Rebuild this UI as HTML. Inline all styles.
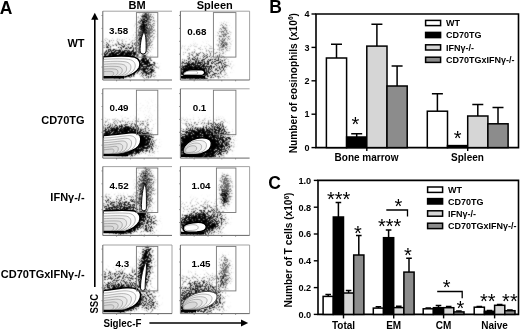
<!DOCTYPE html>
<html><head><meta charset="utf-8"><style>
html,body{margin:0;padding:0;background:#fff;}
svg{display:block;will-change:transform;}
</style></head><body>
<svg width="520" height="329" viewBox="0 0 520 329">
<rect width="520" height="329" fill="#fff"/>
<defs><clipPath id="cp00"><rect x="103.3" y="11.7" width="68.2" height="67.8"/></clipPath><clipPath id="cp01"><rect x="180.9" y="11.7" width="68.2" height="67.8"/></clipPath><clipPath id="cp10"><rect x="103.3" y="89.3" width="68.2" height="68.3"/></clipPath><clipPath id="cp11"><rect x="180.9" y="89.3" width="68.2" height="68.3"/></clipPath><clipPath id="cp20"><rect x="103.3" y="167.1" width="68.2" height="67.80000000000001"/></clipPath><clipPath id="cp21"><rect x="180.9" y="167.1" width="68.2" height="67.80000000000001"/></clipPath><clipPath id="cp30"><rect x="103.3" y="245.5" width="68.2" height="67.60000000000002"/></clipPath><clipPath id="cp31"><rect x="180.9" y="245.5" width="68.2" height="67.60000000000002"/></clipPath><filter id="b1_0" x="-100%" y="-100%" width="300%" height="300%"><feGaussianBlur stdDeviation="1.0"/></filter><filter id="b1_5" x="-100%" y="-100%" width="300%" height="300%"><feGaussianBlur stdDeviation="1.5"/></filter><filter id="b1_8" x="-100%" y="-100%" width="300%" height="300%"><feGaussianBlur stdDeviation="1.8"/></filter><filter id="b2" x="-100%" y="-100%" width="300%" height="300%"><feGaussianBlur stdDeviation="2"/></filter><filter id="b2_5" x="-100%" y="-100%" width="300%" height="300%"><feGaussianBlur stdDeviation="2.5"/></filter><filter id="b3" x="-100%" y="-100%" width="300%" height="300%"><feGaussianBlur stdDeviation="3"/></filter><filter id="spk" x="95" y="5" width="160" height="315" filterUnits="userSpaceOnUse" color-interpolation-filters="sRGB"><feTurbulence type="fractalNoise" baseFrequency="0.93" numOctaves="2" seed="3" result="n"/><feColorMatrix in="n" type="matrix" values="0 0 0 0 0  0 0 0 0 0  0 0 0 0 0  1 0 0 0 0" result="na"/><feComponentTransfer in="na" result="ns"><feFuncA type="linear" slope="2.5" intercept="-0.9"/></feComponentTransfer><feComposite in="SourceAlpha" in2="ns" operator="arithmetic" k1="0" k2="1" k3="-1" k4="0" result="d"/><feComponentTransfer in="d" result="t"><feFuncA type="linear" slope="3" intercept="0"/></feComponentTransfer><feFlood flood-color="#000" result="blk"/><feComposite in="blk" in2="t" operator="in" result="o"/><feConvolveMatrix in="o" order="3" kernelMatrix="0.04 0.1 0.04 0.1 0.44 0.1 0.04 0.1 0.04" divisor="1" preserveAlpha="false"/></filter><filter id="spkg" x="95" y="5" width="160" height="315" filterUnits="userSpaceOnUse" color-interpolation-filters="sRGB"><feTurbulence type="fractalNoise" baseFrequency="0.93" numOctaves="2" seed="7" result="n"/><feColorMatrix in="n" type="matrix" values="0 0 0 0 0  0 0 0 0 0  0 0 0 0 0  1 0 0 0 0" result="na"/><feComponentTransfer in="na" result="ns"><feFuncA type="linear" slope="2.5" intercept="-0.9"/></feComponentTransfer><feComposite in="SourceAlpha" in2="ns" operator="arithmetic" k1="0" k2="1" k3="-1" k4="0" result="d"/><feComponentTransfer in="d" result="t"><feFuncA type="linear" slope="3" intercept="0"/></feComponentTransfer><feFlood flood-color="#5a5a5a" result="blk"/><feComposite in="blk" in2="t" operator="in" result="o"/><feConvolveMatrix in="o" order="3" kernelMatrix="0.04 0.1 0.04 0.1 0.44 0.1 0.04 0.1 0.04" divisor="1" preserveAlpha="false"/></filter></defs>
<text x="-0.2" y="13.6" font-family="Liberation Sans, sans-serif" font-size="17.5" font-weight="bold" text-anchor="start" >A</text>
<text x="137.1" y="9.0" font-family="Liberation Sans, sans-serif" font-size="11" font-weight="bold" text-anchor="middle" >BM</text>
<text x="214.7" y="9.0" font-family="Liberation Sans, sans-serif" font-size="11" font-weight="bold" text-anchor="middle" >Spleen</text>
<text x="84.6" y="47.2" font-family="Liberation Sans, sans-serif" font-size="11" font-weight="bold" text-anchor="end" >WT</text>
<text x="84.6" y="124.0" font-family="Liberation Sans, sans-serif" font-size="11" font-weight="bold" text-anchor="end" >CD70TG</text>
<text x="84.6" y="200.6" font-family="Liberation Sans, sans-serif" font-size="11" font-weight="bold" text-anchor="end" >IFN&#947;-/-</text>
<text x="84.6" y="278.0" font-family="Liberation Sans, sans-serif" font-size="11" font-weight="bold" text-anchor="end" >CD70TGxIFN&#947;-/-</text>
<path d="M94.8 18V287" stroke="#000" stroke-width="1.6"/>
<path d="M91.2 19.8L94.8 12.8L98.4 19.8Z" fill="#000"/>
<text transform="translate(98.0 313.5) rotate(-90)" font-family="Liberation Sans, sans-serif" font-size="10.5" font-weight="bold" textLength="19.5" lengthAdjust="spacingAndGlyphs">SSC</text>
<text x="103.4" y="327.3" font-family="Liberation Sans, sans-serif" font-size="10.5" font-weight="bold" text-anchor="start" textLength="38" lengthAdjust="spacingAndGlyphs">Siglec-F</text>
<path d="M149.4 323H243" stroke="#000" stroke-width="1.6"/>
<path d="M241 319.6L248.2 323L241 326.4Z" fill="#000"/>
<g clip-path="url(#cp00)">
<g filter="url(#spkg)" fill="#000"><ellipse cx="145" cy="33" rx="8" ry="23" transform="rotate(6 145 33)" fill-opacity="0.8" filter="url(#b2_5)"/></g>
<g filter="url(#spk)" fill="#000"><rect x="102.8" y="41" width="36" height="15" fill-opacity="0.33" filter="url(#b2_5)"/><ellipse cx="121" cy="54" rx="19" ry="3.5" transform="rotate(0 121 54)" fill-opacity="0.8" filter="url(#b1_5)"/><ellipse cx="143.5" cy="30" rx="3.5" ry="17" transform="rotate(6 143.5 30)" fill-opacity="0.7" filter="url(#b1_5)"/><ellipse cx="144" cy="62" rx="3" ry="8" transform="rotate(0 144 62)" fill-opacity="0.9" filter="url(#b1_5)"/><ellipse cx="148" cy="68" rx="8" ry="10" transform="rotate(0 148 68)" fill-opacity="0.65" filter="url(#b2_5)"/><ellipse cx="121" cy="66" rx="20" ry="12" transform="rotate(0 121 66)" fill-opacity="1.0" filter="url(#b1_0)"/></g>
<path d="M103.3 56.8 C116 55.8 129 55.6 134.5 57.2 C139.8 58.8 140.8 63.5 139.2 67.5 C137 72 131 75.3 123.5 77 L103.3 77.6 Z" fill="#fff" stroke="#000" stroke-width="1.4"/>
<path d="M103.3 56.8 C116 55.8 129 55.6 134.5 57.2 C139.8 58.8 140.8 63.5 139.2 67.5 C137 72 131 75.3 123.5 77 L103.3 77.6 Z" transform="translate(104 77) scale(0.87) translate(-104 -77)" fill="#fafafa" stroke="#8a8a8a" stroke-width="0.6" vector-effect="non-scaling-stroke"/>
<path d="M103.3 56.8 C116 55.8 129 55.6 134.5 57.2 C139.8 58.8 140.8 63.5 139.2 67.5 C137 72 131 75.3 123.5 77 L103.3 77.6 Z" transform="translate(104 77) scale(0.75) translate(-104 -77)" fill="#f0f0f0" stroke="#8a8a8a" stroke-width="0.6" vector-effect="non-scaling-stroke"/>
<path d="M103.3 56.8 C116 55.8 129 55.6 134.5 57.2 C139.8 58.8 140.8 63.5 139.2 67.5 C137 72 131 75.3 123.5 77 L103.3 77.6 Z" transform="translate(104 77) scale(0.63) translate(-104 -77)" fill="#e8e8e8" stroke="#8a8a8a" stroke-width="0.6" vector-effect="non-scaling-stroke"/>
<path d="M103.3 56.8 C116 55.8 129 55.6 134.5 57.2 C139.8 58.8 140.8 63.5 139.2 67.5 C137 72 131 75.3 123.5 77 L103.3 77.6 Z" transform="translate(104 77) scale(0.51) translate(-104 -77)" fill="#e2e2e2" stroke="#8a8a8a" stroke-width="0.6" vector-effect="non-scaling-stroke"/>
<path d="M103.3 56.8 C116 55.8 129 55.6 134.5 57.2 C139.8 58.8 140.8 63.5 139.2 67.5 C137 72 131 75.3 123.5 77 L103.3 77.6 Z" transform="translate(104 77) scale(0.39) translate(-104 -77)" fill="#dcdcdc" stroke="#8a8a8a" stroke-width="0.6" vector-effect="non-scaling-stroke"/>
<path d="M103.3 56.8 C116 55.8 129 55.6 134.5 57.2 C139.8 58.8 140.8 63.5 139.2 67.5 C137 72 131 75.3 123.5 77 L103.3 77.6 Z" transform="translate(104 77) scale(0.27) translate(-104 -77)" fill="#d6d6d6" stroke="#8a8a8a" stroke-width="0.6" vector-effect="non-scaling-stroke"/>
<path d="M103.3 77.2H124" stroke="#000" stroke-width="2.6"/>
<path d="M144.0 32.5C146.40 34.22 146.10 44.33 146.10 51.00A3.0 3.0 0 0 1 140.10 51.00C140.10 44.33 141.60 34.22 144.0 32.5Z" fill="#fff" stroke="#000" stroke-width="0.9"/>
</g>
<path d="M102.8 11.2H172.0" fill="none" stroke="#999" stroke-width="0.9"/>
<path d="M102.8 11.2V80.0H172.0" fill="none" stroke="#555" stroke-width="0.9"/>
<path d="M102.8 67.1h-1.3M102.8 54.2h-1.3M102.8 41.3h-1.3M102.8 28.4h-1.3M102.8 15.5h-1.3M116.6 80.0v1.3M130.4 80.0v1.3M144.2 80.0v1.3M158.0 80.0v1.3" stroke="#777" stroke-width="0.8"/>
<rect x="136.4" y="12.6" width="21.400000000000006" height="44.5" fill="none" stroke="#777" stroke-width="0.9"/>
<text x="109.1" y="34.0" font-family="Liberation Sans, sans-serif" font-size="9.8" font-weight="bold" text-anchor="start" >3.58</text>
<g clip-path="url(#cp01)">
<g filter="url(#spkg)" fill="#000"><ellipse cx="224" cy="38" rx="5.5" ry="15" transform="rotate(0 224 38)" fill-opacity="0.5" filter="url(#b2)"/></g>
<g filter="url(#spk)" fill="#000"><ellipse cx="224" cy="45" rx="3" ry="7" transform="rotate(0 224 45)" fill-opacity="0.2" filter="url(#b2)"/><ellipse cx="194" cy="71" rx="14" ry="8" transform="rotate(0 194 71)" fill-opacity="1.0" filter="url(#b2_5)"/><ellipse cx="205" cy="66" rx="24" ry="13" transform="rotate(0 205 66)" fill-opacity="0.35" filter="url(#b3)"/><rect x="180.4" y="45" width="45" height="34" fill-opacity="0.1" filter="url(#b3)"/></g>
<path d="M182.8 73.6 C184 71 187 69.9 192 69.7 L201.5 69.7 C205.2 69.9 205.9 74.4 202.5 75.1 L186 75.5 C183.5 75.5 182.6 74.8 182.8 73.6 Z" fill="#fff" stroke="#000" stroke-width="1.4"/>
<path d="M182.8 73.6 C184 71 187 69.9 192 69.7 L201.5 69.7 C205.2 69.9 205.9 74.4 202.5 75.1 L186 75.5 C183.5 75.5 182.6 74.8 182.8 73.6 Z" transform="translate(187 73) scale(0.6) translate(-187 -73)" fill="none" stroke="#8a8a8a" stroke-width="0.6" vector-effect="non-scaling-stroke"/>
<path d="M181 77.3H205" stroke="#000" stroke-width="2.6"/>
</g>
<path d="M180.4 11.2H249.60000000000002V80.0" fill="none" stroke="#999" stroke-width="0.9"/>
<path d="M180.4 11.2V80.0H249.60000000000002" fill="none" stroke="#555" stroke-width="0.9"/>
<path d="M180.4 67.1h-1.3M180.4 54.2h-1.3M180.4 41.3h-1.3M180.4 28.4h-1.3M180.4 15.5h-1.3M194.2 80.0v1.3M208.0 80.0v1.3M221.8 80.0v1.3M235.6 80.0v1.3" stroke="#777" stroke-width="0.8"/>
<rect x="213.4" y="12.6" width="22.5" height="44.5" fill="none" stroke="#777" stroke-width="0.9"/>
<text x="187.3" y="34.6" font-family="Liberation Sans, sans-serif" font-size="9.8" font-weight="bold" text-anchor="start" >0.68</text>
<g clip-path="url(#cp10)">
<g filter="url(#spk)" fill="#000"><rect x="102.8" y="121" width="47" height="12" fill-opacity="0.3" filter="url(#b3)"/><ellipse cx="122" cy="131" rx="21" ry="4" transform="rotate(0 122 131)" fill-opacity="0.6" filter="url(#b2)"/><ellipse cx="123" cy="142" rx="24" ry="14" transform="rotate(0 123 142)" fill-opacity="1.0" filter="url(#b1_5)"/><ellipse cx="145" cy="141" rx="7" ry="10" transform="rotate(0 145 141)" fill-opacity="0.8" filter="url(#b2_5)"/><ellipse cx="150" cy="145" rx="6" ry="8" transform="rotate(0 150 145)" fill-opacity="0.4" filter="url(#b3)"/><rect x="136" y="100" width="22" height="33" fill-opacity="0.02" filter="url(#b2)"/></g>
<path d="M103.3 135.5 C113 135.3 124 133.5 131 132.8 C137 132.2 140.8 134.5 140.8 139 C140.8 144 137.5 148.5 132 150.5 C126 152.5 118 153.5 112 154.5 L103.3 155.2 Z" fill="#fff" stroke="#000" stroke-width="1.4"/>
<path d="M103.3 135.5 C113 135.3 124 133.5 131 132.8 C137 132.2 140.8 134.5 140.8 139 C140.8 144 137.5 148.5 132 150.5 C126 152.5 118 153.5 112 154.5 L103.3 155.2 Z" transform="translate(104 155) scale(0.87) translate(-104 -155)" fill="#fafafa" stroke="#8a8a8a" stroke-width="0.6" vector-effect="non-scaling-stroke"/>
<path d="M103.3 135.5 C113 135.3 124 133.5 131 132.8 C137 132.2 140.8 134.5 140.8 139 C140.8 144 137.5 148.5 132 150.5 C126 152.5 118 153.5 112 154.5 L103.3 155.2 Z" transform="translate(104 155) scale(0.75) translate(-104 -155)" fill="#f0f0f0" stroke="#8a8a8a" stroke-width="0.6" vector-effect="non-scaling-stroke"/>
<path d="M103.3 135.5 C113 135.3 124 133.5 131 132.8 C137 132.2 140.8 134.5 140.8 139 C140.8 144 137.5 148.5 132 150.5 C126 152.5 118 153.5 112 154.5 L103.3 155.2 Z" transform="translate(104 155) scale(0.63) translate(-104 -155)" fill="#e8e8e8" stroke="#8a8a8a" stroke-width="0.6" vector-effect="non-scaling-stroke"/>
<path d="M103.3 135.5 C113 135.3 124 133.5 131 132.8 C137 132.2 140.8 134.5 140.8 139 C140.8 144 137.5 148.5 132 150.5 C126 152.5 118 153.5 112 154.5 L103.3 155.2 Z" transform="translate(104 155) scale(0.51) translate(-104 -155)" fill="#e2e2e2" stroke="#8a8a8a" stroke-width="0.6" vector-effect="non-scaling-stroke"/>
<path d="M103.3 135.5 C113 135.3 124 133.5 131 132.8 C137 132.2 140.8 134.5 140.8 139 C140.8 144 137.5 148.5 132 150.5 C126 152.5 118 153.5 112 154.5 L103.3 155.2 Z" transform="translate(104 155) scale(0.39) translate(-104 -155)" fill="#dcdcdc" stroke="#8a8a8a" stroke-width="0.6" vector-effect="non-scaling-stroke"/>
<path d="M103.3 135.5 C113 135.3 124 133.5 131 132.8 C137 132.2 140.8 134.5 140.8 139 C140.8 144 137.5 148.5 132 150.5 C126 152.5 118 153.5 112 154.5 L103.3 155.2 Z" transform="translate(104 155) scale(0.27) translate(-104 -155)" fill="#d6d6d6" stroke="#8a8a8a" stroke-width="0.6" vector-effect="non-scaling-stroke"/>
<path d="M103.3 155H128" stroke="#000" stroke-width="2.6"/>
</g>
<path d="M102.8 88.8H172.0" fill="none" stroke="#999" stroke-width="0.9"/>
<path d="M102.8 88.8V158.1H172.0" fill="none" stroke="#555" stroke-width="0.9"/>
<path d="M102.8 145.2h-1.3M102.8 132.3h-1.3M102.8 119.4h-1.3M102.8 106.5h-1.3M102.8 93.6h-1.3M116.6 158.1v1.3M130.4 158.1v1.3M144.2 158.1v1.3M158.0 158.1v1.3" stroke="#777" stroke-width="0.8"/>
<rect x="136.4" y="90.2" width="21.400000000000006" height="44.5" fill="none" stroke="#777" stroke-width="0.9"/>
<text x="109.5" y="111.2" font-family="Liberation Sans, sans-serif" font-size="9.8" font-weight="bold" text-anchor="start" >0.49</text>
<g clip-path="url(#cp11)">
<g filter="url(#spk)" fill="#000"><ellipse cx="199" cy="145" rx="22" ry="16" transform="rotate(0 199 145)" fill-opacity="1.0" filter="url(#b2_5)"/><ellipse cx="216" cy="140" rx="15" ry="15" transform="rotate(0 216 140)" fill-opacity="0.55" filter="url(#b3)"/><ellipse cx="220" cy="148" rx="9" ry="9" transform="rotate(0 220 148)" fill-opacity="0.45" filter="url(#b3)"/><rect x="180.4" y="121" width="45" height="14" fill-opacity="0.25" filter="url(#b3)"/></g>
<path d="M183.3 151 C183.3 145.5 189.5 140 197 138.3 C204 136.8 210.8 138.3 211.3 143 C211.8 148 208 152 201 153.6 C193 155.2 183.3 155.6 183.3 151 Z" fill="#fff" stroke="#000" stroke-width="1.4"/>
<path d="M183.3 151 C183.3 145.5 189.5 140 197 138.3 C204 136.8 210.8 138.3 211.3 143 C211.8 148 208 152 201 153.6 C193 155.2 183.3 155.6 183.3 151 Z" transform="translate(187 151) scale(0.8) translate(-187 -151)" fill="#f4f4f4" stroke="#8a8a8a" stroke-width="0.6" vector-effect="non-scaling-stroke"/>
<path d="M183.3 151 C183.3 145.5 189.5 140 197 138.3 C204 136.8 210.8 138.3 211.3 143 C211.8 148 208 152 201 153.6 C193 155.2 183.3 155.6 183.3 151 Z" transform="translate(187 151) scale(0.6) translate(-187 -151)" fill="#eaeaea" stroke="#8a8a8a" stroke-width="0.6" vector-effect="non-scaling-stroke"/>
<path d="M183.3 151 C183.3 145.5 189.5 140 197 138.3 C204 136.8 210.8 138.3 211.3 143 C211.8 148 208 152 201 153.6 C193 155.2 183.3 155.6 183.3 151 Z" transform="translate(187 151) scale(0.4) translate(-187 -151)" fill="#e0e0e0" stroke="#8a8a8a" stroke-width="0.6" vector-effect="non-scaling-stroke"/>
<path d="M181 155.6H200" stroke="#000" stroke-width="2.6"/>
</g>
<path d="M180.4 88.8H249.60000000000002" fill="none" stroke="#999" stroke-width="0.9"/>
<path d="M180.4 88.8V158.1H249.60000000000002" fill="none" stroke="#555" stroke-width="0.9"/>
<path d="M180.4 145.2h-1.3M180.4 132.3h-1.3M180.4 119.4h-1.3M180.4 106.5h-1.3M180.4 93.6h-1.3M194.2 158.1v1.3M208.0 158.1v1.3M221.8 158.1v1.3M235.6 158.1v1.3" stroke="#777" stroke-width="0.8"/>
<rect x="213.4" y="90.2" width="22.5" height="44.5" fill="none" stroke="#777" stroke-width="0.9"/>
<text x="192.7" y="111.2" font-family="Liberation Sans, sans-serif" font-size="9.8" font-weight="bold" text-anchor="start" >0.1</text>
<g clip-path="url(#cp20)">
<g filter="url(#spkg)" fill="#000"><ellipse cx="145" cy="190" rx="8" ry="24" transform="rotate(4 145 190)" fill-opacity="0.75" filter="url(#b2_5)"/></g>
<g filter="url(#spk)" fill="#000"><ellipse cx="144" cy="190" rx="3.5" ry="20" transform="rotate(4 144 190)" fill-opacity="0.55" filter="url(#b2)"/><ellipse cx="142" cy="216" rx="4" ry="6" transform="rotate(0 142 216)" fill-opacity="0.9" filter="url(#b1_5)"/><rect x="102.8" y="197" width="36" height="13" fill-opacity="0.4" filter="url(#b2_5)"/><ellipse cx="120" cy="208" rx="18" ry="3" transform="rotate(0 120 208)" fill-opacity="0.6" filter="url(#b1_5)"/><ellipse cx="121" cy="222" rx="21" ry="12" transform="rotate(0 121 222)" fill-opacity="1.0" filter="url(#b1_5)"/><ellipse cx="147" cy="223" rx="9" ry="11" transform="rotate(0 147 223)" fill-opacity="0.5" filter="url(#b3)"/></g>
<path d="M103.3 210.8 C116 210.2 129 209.8 134.5 211 C139.8 212.5 140.8 217.5 139.2 221.5 C137 226 131 229.8 123.5 231.8 L103.3 232.4 Z" fill="#fff" stroke="#000" stroke-width="1.4"/>
<path d="M103.3 210.8 C116 210.2 129 209.8 134.5 211 C139.8 212.5 140.8 217.5 139.2 221.5 C137 226 131 229.8 123.5 231.8 L103.3 232.4 Z" transform="translate(104 232) scale(0.87) translate(-104 -232)" fill="#fafafa" stroke="#8a8a8a" stroke-width="0.6" vector-effect="non-scaling-stroke"/>
<path d="M103.3 210.8 C116 210.2 129 209.8 134.5 211 C139.8 212.5 140.8 217.5 139.2 221.5 C137 226 131 229.8 123.5 231.8 L103.3 232.4 Z" transform="translate(104 232) scale(0.75) translate(-104 -232)" fill="#f0f0f0" stroke="#8a8a8a" stroke-width="0.6" vector-effect="non-scaling-stroke"/>
<path d="M103.3 210.8 C116 210.2 129 209.8 134.5 211 C139.8 212.5 140.8 217.5 139.2 221.5 C137 226 131 229.8 123.5 231.8 L103.3 232.4 Z" transform="translate(104 232) scale(0.63) translate(-104 -232)" fill="#e8e8e8" stroke="#8a8a8a" stroke-width="0.6" vector-effect="non-scaling-stroke"/>
<path d="M103.3 210.8 C116 210.2 129 209.8 134.5 211 C139.8 212.5 140.8 217.5 139.2 221.5 C137 226 131 229.8 123.5 231.8 L103.3 232.4 Z" transform="translate(104 232) scale(0.51) translate(-104 -232)" fill="#e2e2e2" stroke="#8a8a8a" stroke-width="0.6" vector-effect="non-scaling-stroke"/>
<path d="M103.3 210.8 C116 210.2 129 209.8 134.5 211 C139.8 212.5 140.8 217.5 139.2 221.5 C137 226 131 229.8 123.5 231.8 L103.3 232.4 Z" transform="translate(104 232) scale(0.39) translate(-104 -232)" fill="#dcdcdc" stroke="#8a8a8a" stroke-width="0.6" vector-effect="non-scaling-stroke"/>
<path d="M103.3 210.8 C116 210.2 129 209.8 134.5 211 C139.8 212.5 140.8 217.5 139.2 221.5 C137 226 131 229.8 123.5 231.8 L103.3 232.4 Z" transform="translate(104 232) scale(0.27) translate(-104 -232)" fill="#d6d6d6" stroke="#8a8a8a" stroke-width="0.6" vector-effect="non-scaling-stroke"/>
<path d="M103.3 232H124" stroke="#000" stroke-width="2.6"/>
<path d="M144.8 184.5C146.80 186.60 146.40 198.97 146.40 208.30A2.5 2.5 0 0 1 141.40 208.30C141.40 198.97 142.80 186.60 144.8 184.5Z" fill="#fff" stroke="#000" stroke-width="0.9"/>
</g>
<path d="M102.8 166.6H172.0" fill="none" stroke="#999" stroke-width="0.9"/>
<path d="M102.8 166.6V235.4H172.0" fill="none" stroke="#555" stroke-width="0.9"/>
<path d="M102.8 222.5h-1.3M102.8 209.6h-1.3M102.8 196.7h-1.3M102.8 183.8h-1.3M102.8 170.9h-1.3M116.6 235.4v1.3M130.4 235.4v1.3M144.2 235.4v1.3M158.0 235.4v1.3" stroke="#777" stroke-width="0.8"/>
<rect x="136.4" y="168.0" width="21.400000000000006" height="44.5" fill="none" stroke="#777" stroke-width="0.9"/>
<text x="109.6" y="189.0" font-family="Liberation Sans, sans-serif" font-size="9.8" font-weight="bold" text-anchor="start" >4.52</text>
<g clip-path="url(#cp21)">
<g filter="url(#spkg)" fill="#000"><ellipse cx="225.5" cy="190" rx="5" ry="16" transform="rotate(0 225.5 190)" fill-opacity="0.8" filter="url(#b2)"/></g>
<g filter="url(#spk)" fill="#000"><ellipse cx="224.5" cy="197" rx="3" ry="8" transform="rotate(0 224.5 197)" fill-opacity="0.75" filter="url(#b1_5)"/><ellipse cx="197" cy="224" rx="18" ry="10" transform="rotate(0 197 224)" fill-opacity="1.0" filter="url(#b2_5)"/><ellipse cx="210" cy="220" rx="16" ry="12" transform="rotate(0 210 220)" fill-opacity="0.4" filter="url(#b3)"/><rect x="180.4" y="200" width="42" height="35" fill-opacity="0.12" filter="url(#b3)"/></g>
<path d="M183.2 228 C183.2 225 187 223.5 193 222.8 C199 222 205.5 222.5 206.2 226.5 C206.8 230 203 231.5 197 232 L189 232.3 C185 232.3 183.2 230.5 183.2 228 Z" fill="#fff" stroke="#000" stroke-width="1.4"/>
<path d="M183.2 228 C183.2 225 187 223.5 193 222.8 C199 222 205.5 222.5 206.2 226.5 C206.8 230 203 231.5 197 232 L189 232.3 C185 232.3 183.2 230.5 183.2 228 Z" transform="translate(186 228) scale(0.6) translate(-186 -228)" fill="none" stroke="#8a8a8a" stroke-width="0.6" vector-effect="non-scaling-stroke"/>
<path d="M181 233.2H204" stroke="#000" stroke-width="2.6"/>
</g>
<path d="M180.4 166.6H249.60000000000002V235.4" fill="none" stroke="#999" stroke-width="0.9"/>
<path d="M180.4 166.6V235.4H249.60000000000002" fill="none" stroke="#555" stroke-width="0.9"/>
<path d="M180.4 222.5h-1.3M180.4 209.6h-1.3M180.4 196.7h-1.3M180.4 183.8h-1.3M180.4 170.9h-1.3M194.2 235.4v1.3M208.0 235.4v1.3M221.8 235.4v1.3M235.6 235.4v1.3" stroke="#777" stroke-width="0.8"/>
<rect x="216.4" y="168.0" width="19.5" height="44.5" fill="none" stroke="#777" stroke-width="0.9"/>
<text x="191.5" y="189.2" font-family="Liberation Sans, sans-serif" font-size="9.8" font-weight="bold" text-anchor="start" >1.04</text>
<g clip-path="url(#cp30)">
<g filter="url(#spk)" fill="#000"><ellipse cx="144.5" cy="268" rx="4" ry="22" transform="rotate(8 144.5 268)" fill-opacity="0.95" filter="url(#b1_8)"/><ellipse cx="145" cy="270" rx="7" ry="25" transform="rotate(8 145 270)" fill-opacity="0.4" filter="url(#b2_5)"/><rect x="102.8" y="270" width="36" height="20" fill-opacity="0.33" filter="url(#b2_5)"/><ellipse cx="120" cy="287" rx="18" ry="3" transform="rotate(0 120 287)" fill-opacity="0.6" filter="url(#b1_5)"/><ellipse cx="121" cy="300" rx="21" ry="12" transform="rotate(0 121 300)" fill-opacity="1.0" filter="url(#b1_5)"/><ellipse cx="148" cy="301" rx="9" ry="11" transform="rotate(0 148 301)" fill-opacity="0.45" filter="url(#b3)"/></g>
<path d="M103.3 290.5 C112 290 120 288 127 287.8 C134 287.6 140 289.5 140.5 294 C141 299 137.5 304 132 307 C127 309.5 120 310.5 112 311 L103.3 311.3 Z" fill="#fff" stroke="#000" stroke-width="1.4"/>
<path d="M103.3 290.5 C112 290 120 288 127 287.8 C134 287.6 140 289.5 140.5 294 C141 299 137.5 304 132 307 C127 309.5 120 310.5 112 311 L103.3 311.3 Z" transform="translate(104 311) scale(0.87) translate(-104 -311)" fill="#fafafa" stroke="#8a8a8a" stroke-width="0.6" vector-effect="non-scaling-stroke"/>
<path d="M103.3 290.5 C112 290 120 288 127 287.8 C134 287.6 140 289.5 140.5 294 C141 299 137.5 304 132 307 C127 309.5 120 310.5 112 311 L103.3 311.3 Z" transform="translate(104 311) scale(0.75) translate(-104 -311)" fill="#f0f0f0" stroke="#8a8a8a" stroke-width="0.6" vector-effect="non-scaling-stroke"/>
<path d="M103.3 290.5 C112 290 120 288 127 287.8 C134 287.6 140 289.5 140.5 294 C141 299 137.5 304 132 307 C127 309.5 120 310.5 112 311 L103.3 311.3 Z" transform="translate(104 311) scale(0.63) translate(-104 -311)" fill="#e8e8e8" stroke="#8a8a8a" stroke-width="0.6" vector-effect="non-scaling-stroke"/>
<path d="M103.3 290.5 C112 290 120 288 127 287.8 C134 287.6 140 289.5 140.5 294 C141 299 137.5 304 132 307 C127 309.5 120 310.5 112 311 L103.3 311.3 Z" transform="translate(104 311) scale(0.51) translate(-104 -311)" fill="#e2e2e2" stroke="#8a8a8a" stroke-width="0.6" vector-effect="non-scaling-stroke"/>
<path d="M103.3 290.5 C112 290 120 288 127 287.8 C134 287.6 140 289.5 140.5 294 C141 299 137.5 304 132 307 C127 309.5 120 310.5 112 311 L103.3 311.3 Z" transform="translate(104 311) scale(0.39) translate(-104 -311)" fill="#dcdcdc" stroke="#8a8a8a" stroke-width="0.6" vector-effect="non-scaling-stroke"/>
<path d="M103.3 290.5 C112 290 120 288 127 287.8 C134 287.6 140 289.5 140.5 294 C141 299 137.5 304 132 307 C127 309.5 120 310.5 112 311 L103.3 311.3 Z" transform="translate(104 311) scale(0.27) translate(-104 -311)" fill="#d6d6d6" stroke="#8a8a8a" stroke-width="0.6" vector-effect="non-scaling-stroke"/>
<path d="M103.3 311H124" stroke="#000" stroke-width="2.6"/>
<path d="M145.8 262.5C147.64 264.74 145.10 277.90 145.10 288.20A2.3 2.3 0 0 1 140.50 288.20C140.50 277.90 143.96 264.74 145.8 262.5Z" fill="#fff" stroke="#000" stroke-width="0.9"/>
</g>
<path d="M102.8 245.0H172.0V313.6" fill="none" stroke="#999" stroke-width="0.9"/>
<path d="M102.8 245.0V313.6H172.0" fill="none" stroke="#555" stroke-width="0.9"/>
<path d="M102.8 300.7h-1.3M102.8 287.8h-1.3M102.8 274.9h-1.3M102.8 262.0h-1.3M102.8 249.1h-1.3M116.6 313.6v1.3M130.4 313.6v1.3M144.2 313.6v1.3M158.0 313.6v1.3" stroke="#777" stroke-width="0.8"/>
<rect x="136.4" y="246.4" width="21.400000000000006" height="44.5" fill="none" stroke="#777" stroke-width="0.9"/>
<text x="115.6" y="267.4" font-family="Liberation Sans, sans-serif" font-size="9.8" font-weight="bold" text-anchor="start" >4.3</text>
<g clip-path="url(#cp31)">
<g filter="url(#spkg)" fill="#000"><ellipse cx="225" cy="272" rx="5" ry="17" transform="rotate(0 225 272)" fill-opacity="0.6" filter="url(#b2)"/></g>
<g filter="url(#spk)" fill="#000"><ellipse cx="222.5" cy="280" rx="3" ry="8" transform="rotate(0 222.5 280)" fill-opacity="0.35" filter="url(#b2)"/><ellipse cx="199" cy="298" rx="22" ry="15" transform="rotate(0 199 298)" fill-opacity="0.55" filter="url(#b3)"/><rect x="180.4" y="274" width="45" height="39" fill-opacity="0.17" filter="url(#b3)"/><ellipse cx="187" cy="309" rx="8" ry="4" transform="rotate(0 187 309)" fill-opacity="1" filter="url(#b1_5)"/></g>
<path d="M183.3 303 C186 297 196 292 205 291.5 C212 291 217.5 293 217 297 C216.5 302 211 306 204 308 C196 310 188 310.5 183.3 309 Z" fill="#fff" stroke="#444" stroke-width="1.0"/>
<path d="M183.3 303 C186 297 196 292 205 291.5 C212 291 217.5 293 217 297 C216.5 302 211 306 204 308 C196 310 188 310.5 183.3 309 Z" transform="translate(184 309) scale(0.85) translate(-184 -309)" fill="#f6f6f6" stroke="#8a8a8a" stroke-width="0.6" vector-effect="non-scaling-stroke"/>
<path d="M183.3 303 C186 297 196 292 205 291.5 C212 291 217.5 293 217 297 C216.5 302 211 306 204 308 C196 310 188 310.5 183.3 309 Z" transform="translate(184 309) scale(0.7) translate(-184 -309)" fill="#eeeeee" stroke="#8a8a8a" stroke-width="0.6" vector-effect="non-scaling-stroke"/>
<path d="M183.3 303 C186 297 196 292 205 291.5 C212 291 217.5 293 217 297 C216.5 302 211 306 204 308 C196 310 188 310.5 183.3 309 Z" transform="translate(184 309) scale(0.55) translate(-184 -309)" fill="#e4e4e4" stroke="#8a8a8a" stroke-width="0.6" vector-effect="non-scaling-stroke"/>
<path d="M183.3 303 C186 297 196 292 205 291.5 C212 291 217.5 293 217 297 C216.5 302 211 306 204 308 C196 310 188 310.5 183.3 309 Z" transform="translate(184 309) scale(0.4) translate(-184 -309)" fill="#d8d8d8" stroke="#8a8a8a" stroke-width="0.6" vector-effect="non-scaling-stroke"/>
<path d="M181 311H196" stroke="#000" stroke-width="2.6"/>
</g>
<path d="M180.4 245.0H249.60000000000002V313.6" fill="none" stroke="#999" stroke-width="0.9"/>
<path d="M180.4 245.0V313.6H249.60000000000002" fill="none" stroke="#555" stroke-width="0.9"/>
<path d="M180.4 300.7h-1.3M180.4 287.8h-1.3M180.4 274.9h-1.3M180.4 262.0h-1.3M180.4 249.1h-1.3M194.2 313.6v1.3M208.0 313.6v1.3M221.8 313.6v1.3M235.6 313.6v1.3" stroke="#777" stroke-width="0.8"/>
<rect x="216.4" y="246.4" width="19.5" height="44.5" fill="none" stroke="#777" stroke-width="0.9"/>
<text x="191.5" y="267.4" font-family="Liberation Sans, sans-serif" font-size="9.8" font-weight="bold" text-anchor="start" >1.45</text>
<path d="M316 14H518.5V147.6H316Z" fill="none" stroke="#000" stroke-width="1.6"/>
<path d="M311.5 147.60H316" stroke="#000" stroke-width="1.4"/>
<text x="309.6" y="150.79999999999998" font-family="Liberation Sans, sans-serif" font-size="9" font-weight="bold" text-anchor="end" >0</text>
<path d="M311.5 114.20H316" stroke="#000" stroke-width="1.4"/>
<text x="309.6" y="117.39999999999999" font-family="Liberation Sans, sans-serif" font-size="9" font-weight="bold" text-anchor="end" >1</text>
<path d="M311.5 80.80H316" stroke="#000" stroke-width="1.4"/>
<text x="309.6" y="84.0" font-family="Liberation Sans, sans-serif" font-size="9" font-weight="bold" text-anchor="end" >2</text>
<path d="M311.5 47.40H316" stroke="#000" stroke-width="1.4"/>
<text x="309.6" y="50.60000000000001" font-family="Liberation Sans, sans-serif" font-size="9" font-weight="bold" text-anchor="end" >3</text>
<path d="M311.5 14.00H316" stroke="#000" stroke-width="1.4"/>
<text x="309.6" y="17.2" font-family="Liberation Sans, sans-serif" font-size="9" font-weight="bold" text-anchor="end" >4</text>
<path d="M336.50 58V44.2M331.00 44.2H342.00" stroke="#000" stroke-width="1.5" fill="none"/>
<rect x="326.40" y="58" width="20.20" height="89.60" fill="#fff" stroke="#000" stroke-width="1.5"/>
<path d="M356.70 137V133.7M351.20 133.7H362.20" stroke="#000" stroke-width="1.5" fill="none"/>
<rect x="346.60" y="137" width="20.20" height="10.60" fill="#000" stroke="#000" stroke-width="1.5"/>
<path d="M376.90 46.1V24.2M371.40 24.2H382.40" stroke="#000" stroke-width="1.5" fill="none"/>
<rect x="366.80" y="46.1" width="20.20" height="101.50" fill="#d6d6d6" stroke="#000" stroke-width="1.5"/>
<path d="M397.10 86V66M391.60 66H402.60" stroke="#000" stroke-width="1.5" fill="none"/>
<rect x="387.00" y="86" width="20.20" height="61.60" fill="#8c8c8c" stroke="#000" stroke-width="1.5"/>
<path d="M366.80 147.6V151.1" stroke="#000" stroke-width="1.4"/>
<path d="M437.40 111.2V93.7M431.90 93.7H442.90" stroke="#000" stroke-width="1.5" fill="none"/>
<rect x="427.30" y="111.2" width="20.20" height="36.40" fill="#fff" stroke="#000" stroke-width="1.5"/>
<rect x="447.50" y="145.6" width="20.20" height="2.00" fill="#000" stroke="#000" stroke-width="1.5"/>
<path d="M477.80 116V104.4M472.30 104.4H483.30" stroke="#000" stroke-width="1.5" fill="none"/>
<rect x="467.70" y="116" width="20.20" height="31.60" fill="#d6d6d6" stroke="#000" stroke-width="1.5"/>
<path d="M498.00 123.8V107.4M492.50 107.4H503.50" stroke="#000" stroke-width="1.5" fill="none"/>
<rect x="487.90" y="123.8" width="20.20" height="23.80" fill="#8c8c8c" stroke="#000" stroke-width="1.5"/>
<path d="M467.70 147.6V151.1" stroke="#000" stroke-width="1.4"/>
<text x="355.5" y="130.9" font-family="Liberation Sans, sans-serif" font-size="20"  text-anchor="middle" >*</text>
<text x="457.6" y="145.1" font-family="Liberation Sans, sans-serif" font-size="20"  text-anchor="middle" >*</text>
<text x="366.5" y="161.0" font-family="Liberation Sans, sans-serif" font-size="10" font-weight="bold" text-anchor="middle" >Bone marrow</text>
<text x="467.5" y="161.0" font-family="Liberation Sans, sans-serif" font-size="10" font-weight="bold" text-anchor="middle" >Spleen</text>
<text transform="translate(296.8 153.3) rotate(-90)" font-family="Liberation Sans, sans-serif" font-size="10" font-weight="bold" textLength="140.3" lengthAdjust="spacingAndGlyphs">Number of eosinophils (x10<tspan dy="-3.5" font-size="6.5">6</tspan><tspan dy="3.5">)</tspan></text>
<rect x="425.6" y="20.4" width="15" height="5.2" fill="#fff" stroke="#000" stroke-width="1.5"/>
<text x="446" y="26.3" font-family="Liberation Sans, sans-serif" font-size="9" font-weight="bold" text-anchor="start" >WT</text>
<rect x="425.6" y="32.4" width="15" height="5.2" fill="#000" stroke="#000" stroke-width="1.5"/>
<text x="446" y="38.3" font-family="Liberation Sans, sans-serif" font-size="9" font-weight="bold" text-anchor="start" >CD70TG</text>
<rect x="425.6" y="44.8" width="15" height="5.2" fill="#d6d6d6" stroke="#000" stroke-width="1.5"/>
<text x="446" y="50.699999999999996" font-family="Liberation Sans, sans-serif" font-size="9" font-weight="bold" text-anchor="start" >IFN&#947;-/-</text>
<rect x="425.6" y="57.199999999999996" width="15" height="5.2" fill="#8c8c8c" stroke="#000" stroke-width="1.5"/>
<text x="446" y="63.099999999999994" font-family="Liberation Sans, sans-serif" font-size="9" font-weight="bold" text-anchor="start" >CD70TGxIFN&#947;-/-</text>
<text x="269.3" y="13.1" font-family="Liberation Sans, sans-serif" font-size="17.5" font-weight="bold" text-anchor="start" >B</text>
<path d="M318 180.4H518.5V314.4H318Z" fill="none" stroke="#000" stroke-width="1.6"/>
<path d="M313.8 314.40H318" stroke="#000" stroke-width="1.4"/>
<text x="298.4" y="317.7" font-family="Liberation Sans, sans-serif" font-size="9" font-weight="bold" text-anchor="start" textLength="12.8" lengthAdjust="spacingAndGlyphs">0.0</text>
<path d="M313.8 287.60H318" stroke="#000" stroke-width="1.4"/>
<text x="298.4" y="290.9" font-family="Liberation Sans, sans-serif" font-size="9" font-weight="bold" text-anchor="start" textLength="12.8" lengthAdjust="spacingAndGlyphs">0.2</text>
<path d="M313.8 260.80H318" stroke="#000" stroke-width="1.4"/>
<text x="298.4" y="264.09999999999997" font-family="Liberation Sans, sans-serif" font-size="9" font-weight="bold" text-anchor="start" textLength="12.8" lengthAdjust="spacingAndGlyphs">0.4</text>
<path d="M313.8 234.00H318" stroke="#000" stroke-width="1.4"/>
<text x="298.4" y="237.3" font-family="Liberation Sans, sans-serif" font-size="9" font-weight="bold" text-anchor="start" textLength="12.8" lengthAdjust="spacingAndGlyphs">0.6</text>
<path d="M313.8 207.20H318" stroke="#000" stroke-width="1.4"/>
<text x="298.4" y="210.5" font-family="Liberation Sans, sans-serif" font-size="9" font-weight="bold" text-anchor="start" textLength="12.8" lengthAdjust="spacingAndGlyphs">0.8</text>
<path d="M313.8 180.40H318" stroke="#000" stroke-width="1.4"/>
<text x="298.4" y="183.7" font-family="Liberation Sans, sans-serif" font-size="9" font-weight="bold" text-anchor="start" textLength="12.8" lengthAdjust="spacingAndGlyphs">1.0</text>
<path d="M328.20 296.4V294.5M325.40 294.5H331.00" stroke="#000" stroke-width="1.5" fill="none"/>
<rect x="323.10" y="296.4" width="10.20" height="18.00" fill="#fff" stroke="#000" stroke-width="1.5"/>
<path d="M338.40 217V202.4M335.60 202.4H341.20" stroke="#000" stroke-width="1.5" fill="none"/>
<rect x="333.30" y="217" width="10.20" height="97.40" fill="#000" stroke="#000" stroke-width="1.5"/>
<path d="M348.60 293V290.4M345.80 290.4H351.40" stroke="#000" stroke-width="1.5" fill="none"/>
<rect x="343.50" y="293" width="10.20" height="21.40" fill="#d6d6d6" stroke="#000" stroke-width="1.5"/>
<path d="M358.80 255V235.5M356.00 235.5H361.60" stroke="#000" stroke-width="1.5" fill="none"/>
<rect x="353.70" y="255" width="10.20" height="59.40" fill="#8c8c8c" stroke="#000" stroke-width="1.5"/>
<path d="M343.50 314.4V318.4" stroke="#000" stroke-width="1.4"/>
<path d="M378.40 308.1V306.7M375.60 306.7H381.20" stroke="#000" stroke-width="1.5" fill="none"/>
<rect x="373.30" y="308.1" width="10.20" height="6.30" fill="#fff" stroke="#000" stroke-width="1.5"/>
<path d="M388.60 237.7V229.9M385.80 229.9H391.40" stroke="#000" stroke-width="1.5" fill="none"/>
<rect x="383.50" y="237.7" width="10.20" height="76.70" fill="#000" stroke="#000" stroke-width="1.5"/>
<path d="M398.80 307.6V306.2M396.00 306.2H401.60" stroke="#000" stroke-width="1.5" fill="none"/>
<rect x="393.70" y="307.6" width="10.20" height="6.80" fill="#d6d6d6" stroke="#000" stroke-width="1.5"/>
<path d="M409.00 272.1V258.2M406.20 258.2H411.80" stroke="#000" stroke-width="1.5" fill="none"/>
<rect x="403.90" y="272.1" width="10.20" height="42.30" fill="#8c8c8c" stroke="#000" stroke-width="1.5"/>
<path d="M393.70 314.4V318.4" stroke="#000" stroke-width="1.4"/>
<path d="M428.30 308.8V308.0M425.50 308.0H431.10" stroke="#000" stroke-width="1.5" fill="none"/>
<rect x="423.20" y="308.8" width="10.20" height="5.60" fill="#fff" stroke="#000" stroke-width="1.5"/>
<path d="M438.50 307.7V305.5M435.70 305.5H441.30" stroke="#000" stroke-width="1.5" fill="none"/>
<rect x="433.40" y="307.7" width="10.20" height="6.70" fill="#000" stroke="#000" stroke-width="1.5"/>
<path d="M448.70 307.7V306.4M445.90 306.4H451.50" stroke="#000" stroke-width="1.5" fill="none"/>
<rect x="443.60" y="307.7" width="10.20" height="6.70" fill="#d6d6d6" stroke="#000" stroke-width="1.5"/>
<path d="M458.90 311.9V311.0M456.10 311.0H461.70" stroke="#000" stroke-width="1.5" fill="none"/>
<rect x="453.80" y="311.9" width="10.20" height="2.50" fill="#8c8c8c" stroke="#000" stroke-width="1.5"/>
<path d="M443.60 314.4V318.4" stroke="#000" stroke-width="1.4"/>
<path d="M479.30 307.2V306.5M476.50 306.5H482.10" stroke="#000" stroke-width="1.5" fill="none"/>
<rect x="474.20" y="307.2" width="10.20" height="7.20" fill="#fff" stroke="#000" stroke-width="1.5"/>
<path d="M489.50 311.3V310.6M486.70 310.6H492.30" stroke="#000" stroke-width="1.5" fill="none"/>
<rect x="484.40" y="311.3" width="10.20" height="3.10" fill="#000" stroke="#000" stroke-width="1.5"/>
<path d="M499.70 305.3V304.6M496.90 304.6H502.50" stroke="#000" stroke-width="1.5" fill="none"/>
<rect x="494.60" y="305.3" width="10.20" height="9.10" fill="#d6d6d6" stroke="#000" stroke-width="1.5"/>
<path d="M509.90 310.7V310.0M507.10 310.0H512.70" stroke="#000" stroke-width="1.5" fill="none"/>
<rect x="504.80" y="310.7" width="10.20" height="3.70" fill="#8c8c8c" stroke="#000" stroke-width="1.5"/>
<path d="M494.60 314.4V318.4" stroke="#000" stroke-width="1.4"/>
<text x="338.7" y="205.5" font-family="Liberation Sans, sans-serif" font-size="20"  text-anchor="middle" >***</text>
<text x="358.0" y="239.7" font-family="Liberation Sans, sans-serif" font-size="20"  text-anchor="middle" >*</text>
<text x="389.6" y="232.9" font-family="Liberation Sans, sans-serif" font-size="20"  text-anchor="middle" >***</text>
<text x="408.0" y="261.5" font-family="Liberation Sans, sans-serif" font-size="20"  text-anchor="middle" >*</text>
<text x="398.3" y="213.0" font-family="Liberation Sans, sans-serif" font-size="20"  text-anchor="middle" >*</text>
<text x="446.7" y="294.2" font-family="Liberation Sans, sans-serif" font-size="20"  text-anchor="middle" >*</text>
<text x="460.5" y="314.7" font-family="Liberation Sans, sans-serif" font-size="20"  text-anchor="middle" >*</text>
<text x="487.8" y="308.2" font-family="Liberation Sans, sans-serif" font-size="20"  text-anchor="middle" >**</text>
<text x="509.9" y="308.2" font-family="Liberation Sans, sans-serif" font-size="20"  text-anchor="middle" >**</text>
<path d="M386.3 210H407.5V216.5" fill="none" stroke="#000" stroke-width="1.3"/>
<path d="M437.2 291.5H462.2V298.3" fill="none" stroke="#000" stroke-width="1.3"/>
<text x="343.5" y="328.7" font-family="Liberation Sans, sans-serif" font-size="10" font-weight="bold" text-anchor="middle" >Total</text>
<text x="393.7" y="328.7" font-family="Liberation Sans, sans-serif" font-size="10" font-weight="bold" text-anchor="middle" >EM</text>
<text x="443.6" y="328.7" font-family="Liberation Sans, sans-serif" font-size="10" font-weight="bold" text-anchor="middle" >CM</text>
<text x="494.6" y="328.7" font-family="Liberation Sans, sans-serif" font-size="10" font-weight="bold" text-anchor="middle" >Naive</text>
<text transform="translate(292.4 307.6) rotate(-90)" font-family="Liberation Sans, sans-serif" font-size="10" font-weight="bold" textLength="115.1" lengthAdjust="spacingAndGlyphs">Number of T cells (x10<tspan dy="-3.5" font-size="6.5">6</tspan><tspan dy="3.5">)</tspan></text>
<rect x="427.6" y="187.0" width="15" height="5.4" fill="#fff" stroke="#000" stroke-width="1.5"/>
<text x="448" y="193.0" font-family="Liberation Sans, sans-serif" font-size="9" font-weight="bold" text-anchor="start" >WT</text>
<rect x="427.6" y="198.60000000000002" width="15" height="5.4" fill="#000" stroke="#000" stroke-width="1.5"/>
<text x="448" y="204.60000000000002" font-family="Liberation Sans, sans-serif" font-size="9" font-weight="bold" text-anchor="start" >CD70TG</text>
<rect x="427.6" y="210.8" width="15" height="5.4" fill="#d6d6d6" stroke="#000" stroke-width="1.5"/>
<text x="448" y="216.8" font-family="Liberation Sans, sans-serif" font-size="9" font-weight="bold" text-anchor="start" >IFN&#947;-/-</text>
<rect x="427.6" y="223.20000000000002" width="15" height="5.4" fill="#8c8c8c" stroke="#000" stroke-width="1.5"/>
<text x="448" y="229.20000000000002" font-family="Liberation Sans, sans-serif" font-size="9" font-weight="bold" text-anchor="start" >CD70TGxIFN&#947;-/-</text>
<text x="268.3" y="189.3" font-family="Liberation Sans, sans-serif" font-size="17.5" font-weight="bold" text-anchor="start" >C</text>
</svg>
</body></html>
